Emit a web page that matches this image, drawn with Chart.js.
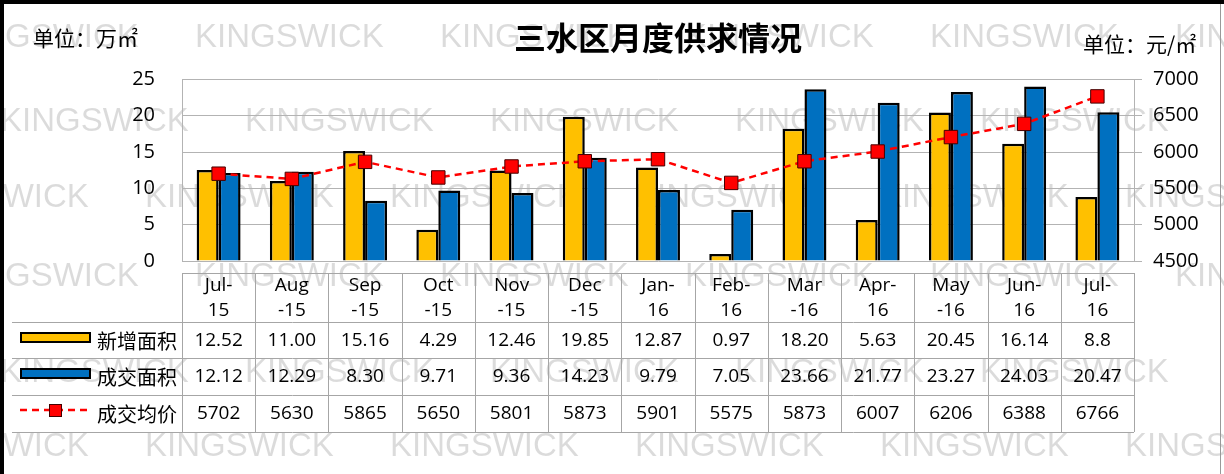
<!DOCTYPE html>
<html>
<head>
<meta charset="utf-8">
<style>
  html, body { margin: 0; padding: 0; background: #fff; }
  #wrap { width: 1224px; height: 474px; position: relative; }
</style>
<script src="https://cdn.jsdelivr.net/npm/chart.js@4/dist/chart.umd.min.js"></script>
</head>
<body>
<div id="wrap"><canvas id="supplyChart" width="1224" height="474"></canvas></div>
<script>
// data
const months = [["Jul-", "15"], ["Aug", "-15"], ["Sep", "-15"], ["Oct", "-15"], ["Nov", "-15"], ["Dec", "-15"],
  ["Jan-", "16"], ["Feb-", "16"], ["Mar", "-16"], ["Apr-", "16"], ["May", "-16"], ["Jun-", "16"], ["Jul-", "16"]];
const newSupply = ["12.52", "11.00", "15.16", "4.29", "12.46", "19.85", "12.87", "0.97", "18.20", "5.63", "20.45", "16.14", "8.8"];
const dealArea = ["12.12", "12.29", "8.30", "9.71", "9.36", "14.23", "9.79", "7.05", "23.66", "21.77", "23.27", "24.03", "20.47"];
const avgPrice = [5702, 5630, 5865, 5650, 5801, 5873, 5901, 5575, 5873, 6007, 6206, 6388, 6766];
const seriesNames = ["新增面积", "成交面积", "成交均价"];

const YELLOW = "#FFC000";
const BLUE = "#0070C0";
const RED = "#FF0000";
const numFont = '"Open Sans", sans-serif';
const cjkFont = '"Noto Sans CJK SC", sans-serif';

// faint KINGSWICK text behind everything
const watermark = {
  id: "watermark",
  beforeDraw(chart) {
    const ctx = chart.ctx;
    ctx.save();
    ctx.fillStyle = "#fff";
    ctx.fillRect(0, 0, chart.width, chart.height);
    ctx.font = "33px 'Liberation Sans', Arial, sans-serif";
    ctx.fillStyle = "rgba(0,0,0,0.14)";
    ctx.textBaseline = "middle";
    const rows = [[38, -50], [122, 0], [198, -100], [277, -50], [373, 0], [447, -100]];
    rows.forEach(([y, x0]) => {
      for (let x = x0; x < chart.width; x += 245) {
        ctx.fillText("KINGSWICK", x, y);
      }
    });
    ctx.restore();
  }
};

// data table under the plot + frame + unit labels
const dataTable = {
  id: "dataTable",
  afterDraw(chart) {
    const ctx = chart.ctx;
    const xs = chart.scales.x;
    const area = chart.chartArea;
    const colW = (area.right - area.left) / months.length;
    const top = 273, rowY = [322, 358, 395, 432];
    const left = 12;
    ctx.save();

    // grid lines
    ctx.strokeStyle = "#a6a6a6";
    ctx.lineWidth = 1;
    ctx.beginPath();
    ctx.moveTo(area.left, top + 0.5);
    ctx.lineTo(area.right, top + 0.5);
    rowY.forEach(y => {
      ctx.moveTo(left, y + 0.5);
      ctx.lineTo(area.right, y + 0.5);
    });
    for (let i = 0; i <= months.length; i++) {
      const x = Math.round(area.left + i * colW) + 0.5;
      ctx.moveTo(x, top);
      ctx.lineTo(x, rowY[3]);
    }
    ctx.stroke();

    // header + values
    ctx.fillStyle = "#000";
    ctx.textAlign = "center";
    ctx.textBaseline = "middle";
    ctx.font = "19px " + numFont;
    months.forEach((m, i) => {
      const cx = xs.getPixelForValue(i);
      ctx.fillText(m[0], cx, 286);
      ctx.fillText(m[1], cx, 311);
      ctx.fillText(newSupply[i], cx, 341);
      ctx.fillText(dealArea[i], cx, 377);
      ctx.fillText(String(avgPrice[i]), cx, 414);
    });

    // legend keys
    ctx.lineWidth = 2;
    ctx.strokeStyle = "#000";
    ctx.fillStyle = YELLOW;
    ctx.fillRect(21, 333, 69, 9);
    ctx.strokeRect(21, 333, 69, 9);
    ctx.fillStyle = BLUE;
    ctx.fillRect(21, 369, 69, 9);
    ctx.strokeRect(21, 369, 69, 9);
    ctx.strokeStyle = RED;
    ctx.lineWidth = 2.5;
    ctx.setLineDash([7, 5]);
    ctx.beginPath();
    ctx.moveTo(20, 410);
    ctx.lineTo(90, 410);
    ctx.stroke();
    ctx.setLineDash([]);
    ctx.fillStyle = RED;
    ctx.strokeStyle = "#400";
    ctx.lineWidth = 1;
    ctx.fillRect(49, 404, 12, 12);
    ctx.strokeRect(49.5, 404.5, 12, 12);

    ctx.fillStyle = "#000";
    ctx.textAlign = "left";
    ctx.font = "20px " + cjkFont;
    ctx.fillText(seriesNames[0], 97, 341);
    ctx.fillText(seriesNames[1], 97, 377);
    ctx.fillText(seriesNames[2], 97, 414);

    // unit labels
    ctx.font = "21px " + cjkFont;
    ctx.fillText("单位：万㎡", 33, 38);
    ctx.fillText("单位：元/㎡", 1083, 44);

    // frame
    ctx.fillStyle = "#000";
    ctx.fillRect(0, 0, chart.width, 4);
    ctx.fillRect(0, 0, 4, chart.height);
    ctx.strokeStyle = "#999";
    ctx.beginPath();
    ctx.moveTo(1220.5, 4);
    ctx.lineTo(1220.5, chart.height);
    ctx.stroke();
    ctx.restore();
  }
};

const tickFont = { family: numFont, size: 20 };

new Chart(document.getElementById("supplyChart"), {
  type: "bar",
  data: {
    labels: months.map(m => m.join("")),
    datasets: [
      {
        label: seriesNames[0],
        data: newSupply.map(Number),
        backgroundColor: YELLOW,
        borderColor: "#000",
        borderWidth: 2.5,
        yAxisID: "y",
        order: 1
      },
      {
        label: seriesNames[1],
        data: dealArea.map(Number),
        backgroundColor: BLUE,
        borderColor: "#000",
        borderWidth: 2.5,
        yAxisID: "y",
        order: 1
      },
      {
        type: "line",
        label: seriesNames[2],
        data: avgPrice,
        yAxisID: "y2",
        borderColor: RED,
        borderWidth: 2.5,
        borderDash: [7, 5],
        pointStyle: "rect",
        pointRadius: 9.5,
        pointBackgroundColor: RED,
        pointBorderColor: "#400",
        pointBorderWidth: 1,
        tension: 0,
        order: 0
      }
    ]
  },
  options: {
    responsive: false,
    animation: false,
    categoryPercentage: 0.6,
    barPercentage: 1.0,
    layout: { padding: { left: 92, right: 0, top: 0, bottom: 213 } },
    plugins: {
      legend: { display: false },
      tooltip: { enabled: false },
      title: {
        display: true,
        text: "三水区月度供求情况",
        color: "#000",
        font: { family: cjkFont, size: 32, weight: "bold" },
        padding: { top: 19, bottom: 22 }
      }
    },
    scales: {
      x: { display: false, offset: true },
      y: {
        position: "left",
        min: 0,
        max: 25,
        ticks: { stepSize: 5, padding: 27, color: "#000", font: tickFont },
        grid: { color: "#b3b3b3", drawTicks: false },
        border: { color: "#b3b3b3" },
        afterFit(scale) { scale.width = 90; }
      },
      y2: {
        position: "right",
        min: 4500,
        max: 7000,
        ticks: { stepSize: 500, padding: 11, color: "#000", font: tickFont, callback: v => String(v) },
        grid: { drawOnChartArea: false, tickLength: 8, color: "#b3b3b3" },
        border: { color: "#b3b3b3" },
        afterFit(scale) { scale.width = 90; }
      }
    }
  },
  plugins: [watermark, dataTable]
});
</script>
</body>
</html>
